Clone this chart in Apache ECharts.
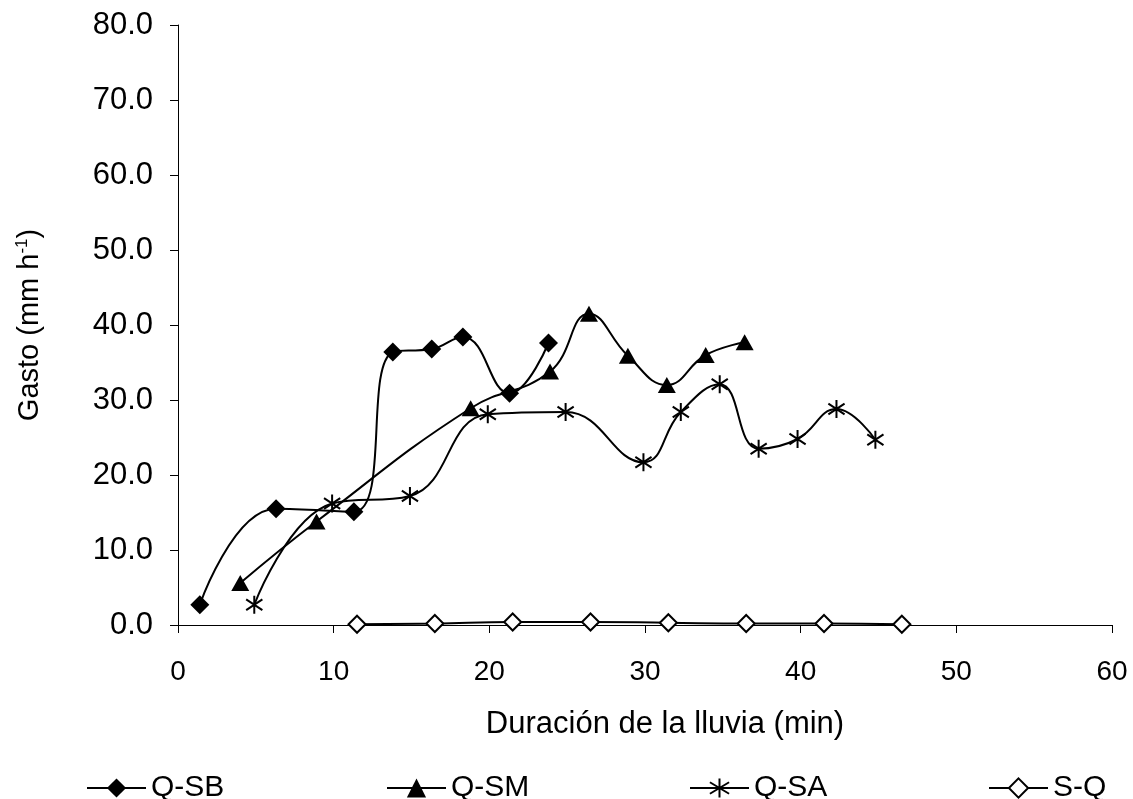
<!DOCTYPE html>
<html>
<head>
<meta charset="utf-8">
<script src="https://cdn.jsdelivr.net/npm/echarts@6/dist/echarts.min.js"></script>
<style>
html,body{margin:0;padding:0;background:#fff;}
#c{width:1133px;height:799px;}
</style>
</head>
<body>
<div id="c"></div>
<script>
// Data
const seriesNames = ['Q-SB', 'Q-SM', 'Q-SA', 'S-Q'];
const qsbX = [1.4, 6.3, 11.3, 13.8, 16.3, 18.3, 21.3, 23.8];
const qsbY = [2.7, 15.5, 15.1, 36.4, 36.8, 38.4, 30.9, 37.6];
const qsmX = [4.0, 8.9, 18.8, 23.9, 26.4, 28.9, 31.4, 33.9, 36.4];
const qsmY = [5.6, 13.8, 28.9, 33.8, 41.5, 35.9, 32.0, 36.0, 37.7];
const qsaX = [4.9, 9.9, 14.9, 19.9, 24.9, 29.9, 32.3, 34.8, 37.3, 39.8, 42.3, 44.8];
const qsaY = [2.7, 16.2, 17.2, 28.1, 28.4, 21.7, 28.4, 32.1, 23.5, 24.8, 28.8, 24.7];
const sqX = [11.5, 16.5, 21.5, 26.5, 31.5, 36.5, 41.5, 46.5];
const sqY = [0.1, 0.2, 0.4, 0.4, 0.3, 0.2, 0.2, 0.1];
const xTitle = 'Duración de la lluvia (min)';

function pairs(xs, ys) { return xs.map((x, i) => [x, ys[i]]); }

const FONT = '"Liberation Sans", Arial, sans-serif';
const asterisk = 'path://M10,0 L10,20 M1,4 L19,16 M19,4 L1,16';

const chart = echarts.init(document.getElementById('c'), null, {renderer: 'canvas'});

const baseLine = {type: 'line', smooth: 0.45, lineStyle: {color: '#000', width: 2}, z: 3};
const legendCommon = {
  top: 768, itemWidth: 59, itemHeight: 24, itemGap: 5,
  textStyle: {fontFamily: FONT, fontSize: 30, color: '#000'},
  selectedMode: false
};

chart.setOption({
  animation: false,
  backgroundColor: '#fff',
  grid: {left: 178, right: 21, top: 25, bottom: 174, containLabel: false},
  xAxis: {
    type: 'value', min: 0, max: 60, interval: 10,
    name: xTitle, nameLocation: 'middle', nameGap: 84,
    nameTextStyle: {fontFamily: FONT, fontSize: 31, color: '#000', padding: [0, 0, 0, 40]},
    axisLine: {show: true, onZero: false, lineStyle: {color: '#000', width: 1}},
    axisTick: {show: true, inside: false, length: 8, lineStyle: {color: '#000'}},
    axisLabel: {fontFamily: FONT, fontSize: 28, color: '#000', margin: 33},
    splitLine: {show: false}
  },
  yAxis: {
    type: 'value', min: 0, max: 80, interval: 10,
    name: '{a|Gasto (mm h}{s|-1}{a|)}', nameLocation: 'middle', nameGap: 133,
    nameTextStyle: {
      rich: {
        a: {fontFamily: FONT, fontSize: 29, color: '#000'},
        s: {fontFamily: FONT, fontSize: 17, color: '#000', verticalAlign: 'top', padding: [0, 0, 14, 0]}
      }
    },
    axisLine: {show: true, lineStyle: {color: '#000', width: 1}},
    axisTick: {show: true, inside: false, length: 8, lineStyle: {color: '#000'}},
    axisLabel: {fontFamily: FONT, fontSize: 31, color: '#000', margin: 25, formatter: v => v.toFixed(1)},
    splitLine: {show: false}
  },
  legend: [
    Object.assign({left: 81, data: ['Q-SB']}, legendCommon),
    Object.assign({left: 381, data: ['Q-SM']}, legendCommon),
    Object.assign({left: 684, data: ['Q-SA']}, legendCommon),
    Object.assign({left: 983, data: ['S-Q']}, legendCommon)
  ],
  series: [
    Object.assign({}, baseLine, {
      name: seriesNames[0], data: pairs(qsbX, qsbY),
      symbol: 'diamond', symbolSize: 19,
      itemStyle: {color: '#000'}
    }),
    Object.assign({}, baseLine, {
      name: seriesNames[1], data: pairs(qsmX, qsmY),
      symbol: 'triangle', symbolSize: [18, 16],
      itemStyle: {color: '#000'}
    }),
    Object.assign({}, baseLine, {
      name: seriesNames[2], data: pairs(qsaX, qsaY),
      symbol: asterisk, symbolSize: 18, symbolKeepAspect: true,
      itemStyle: {color: '#000', borderColor: '#000', borderWidth: 2}
    }),
    Object.assign({}, baseLine, {
      name: seriesNames[3], data: pairs(sqX, sqY),
      symbol: 'diamond', symbolSize: 17,
      itemStyle: {color: '#fff', borderColor: '#000', borderWidth: 2}
    })
  ]
});
</script>
</body>
</html>
